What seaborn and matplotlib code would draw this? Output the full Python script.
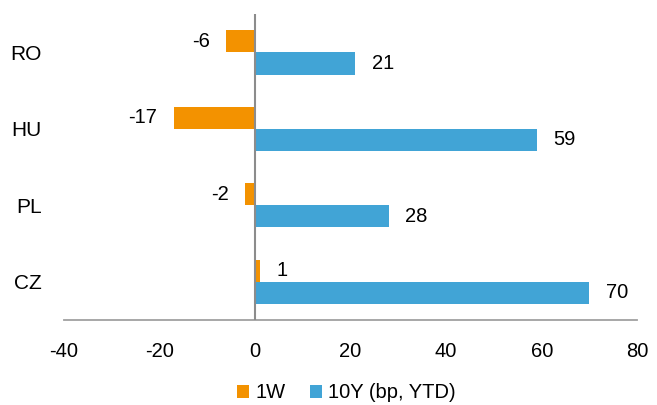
import pandas as pd
import numpy as np
import matplotlib
matplotlib.use('Agg')
import matplotlib.pyplot as plt
import seaborn as sns

countries = ['RO', 'HU', 'PL', 'CZ']
week_change = [-6, -17, -2, 1]
ytd_change = [21, 59, 28, 70]
series_names = ['1W', '10Y (bp, YTD)']
colors = ['#F39200', '#41A4D6']

df = pd.DataFrame({
    'country': countries * 2,
    'value': week_change + ytd_change,
    'series': [series_names[0]] * len(countries) + [series_names[1]] * len(countries),
})

sns.set_theme(style='white')
plt.rcParams['font.family'] = ['Liberation Sans', 'DejaVu Sans']
plt.rcParams['axes.unicode_minus'] = False
plt.rcParams['text.color'] = 'black'
plt.rcParams['xtick.color'] = 'black'
plt.rcParams['ytick.color'] = 'black'

fig = plt.figure(figsize=(6.57, 4.05), dpi=100)
ax = fig.add_axes([0.097, 0.21, 0.873, 0.755])

sns.barplot(data=df, y='country', x='value', hue='series', order=countries,
            hue_order=series_names, palette=colors, saturation=1, orient='h',
            width=0.58, linewidth=0, ax=ax)

for container in ax.containers:
    labels = [f'{v:.0f}' for v in container.datavalues]
    ax.bar_label(container, labels=labels, padding=12, fontsize=14.5, color='black')

ax.set_xlim(-40, 80)
ax.set_xticks(np.arange(-40, 81, 20))
ax.set_ylim(len(countries) - 0.5, -0.5)
ax.axvline(0, color='#8c8c8c', lw=1.5, zorder=3)

for side in ['top', 'right', 'left']:
    ax.spines[side].set_visible(False)
ax.spines['bottom'].set_color('#a0a0a0')
ax.spines['bottom'].set_linewidth(1.3)

ax.tick_params(axis='x', length=0, labelsize=14.5, pad=16)
ax.tick_params(axis='y', length=0, labelsize=15, pad=16)
ax.set_xlabel('')
ax.set_ylabel('')

handles, labels = ax.get_legend_handles_labels()
ax.get_legend().remove()
fig.legend(handles, labels, loc='center', bbox_to_anchor=(0.527, 0.03), ncol=2,
           frameon=False, fontsize=14.5, handlelength=0.6, handleheight=0.6,
           handletextpad=0.3, columnspacing=1.2, borderpad=0)

plt.savefig('out.png', dpi=100)
